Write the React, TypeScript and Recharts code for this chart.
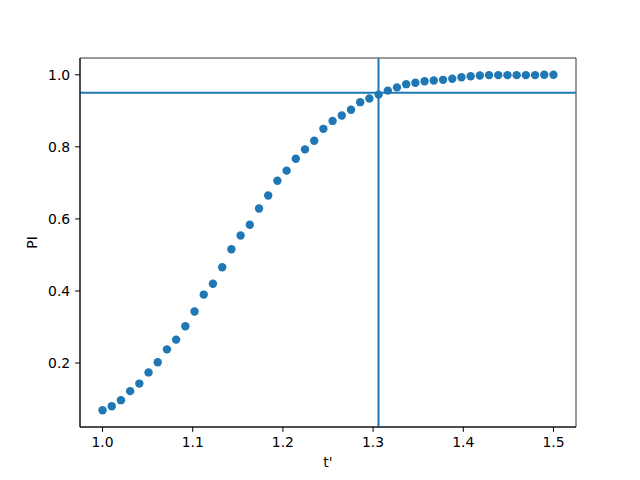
import React from 'react';
import { ScatterChart, Scatter, XAxis, YAxis, ReferenceLine, ReferenceArea } from 'recharts';

// t' samples (50 evenly spaced points between 1.0 and 1.5)
const tValues = [
  1.0, 1.0102, 1.0204, 1.0306, 1.0408, 1.051, 1.0612, 1.0714, 1.0816, 1.0918,
  1.102, 1.1122, 1.1224, 1.1327, 1.1429, 1.1531, 1.1633, 1.1735, 1.1837, 1.1939,
  1.2041, 1.2143, 1.2245, 1.2347, 1.2449, 1.2551, 1.2653, 1.2755, 1.2857, 1.2959,
  1.3061, 1.3163, 1.3265, 1.3367, 1.3469, 1.3571, 1.3673, 1.3776, 1.3878, 1.398,
  1.4082, 1.4184, 1.4286, 1.4388, 1.449, 1.4592, 1.4694, 1.4796, 1.4898, 1.5,
];

const piValues = [
  0.069, 0.08, 0.097, 0.122, 0.143, 0.174, 0.202, 0.238, 0.265, 0.302,
  0.343, 0.39, 0.42, 0.466, 0.516, 0.554, 0.584, 0.629, 0.665, 0.706,
  0.734, 0.767, 0.793, 0.817, 0.85, 0.872, 0.887, 0.903, 0.924, 0.934,
  0.945, 0.956, 0.965, 0.974, 0.978, 0.982, 0.984, 0.986, 0.989, 0.993,
  0.996, 0.998, 0.999, 0.999, 0.999, 0.999, 0.999, 0.999, 1.0, 1.0,
];

const xTicks = [1.0, 1.1, 1.2, 1.3, 1.4, 1.5];
const yTicks = [0.2, 0.4, 0.6, 0.8, 1.0];

const threshold = 0.95;
const tCross = 1.306;

const xDomain = [0.975, 1.525];
const yDomain = [0.0225, 1.0466];

const data = tValues.map((t, i) => ({ t, pi: piValues[i] }));

const blue = '#1f77b4';
const font = 'DejaVu Sans, sans-serif';
const tickStyle = { fontSize: 13.9, fill: '#000', fontFamily: font };

const Dot = (props: any) => <circle cx={props.cx} cy={props.cy} r={4.2} fill={blue} />;

const App = () => {
  return (
    <div style={{ position: 'absolute', left: 0, top: 0, width: 640, height: 480, background: '#fff' }}>
      <ScatterChart width={640} height={480} margin={{ top: 58, right: 64, bottom: 23, left: 20 }}>
        <XAxis
          type="number"
          dataKey="t"
          domain={xDomain}
          ticks={xTicks}
          allowDataOverflow
          tickFormatter={(v: number) => v.toFixed(1)}
          tick={tickStyle}
          tickSize={4.9}
          tickMargin={5.5}
          height={30}
          stroke="#000"
          label={{ value: "t'", position: 'bottom', offset: 0, style: tickStyle }}
        />
        <YAxis
          type="number"
          dataKey="pi"
          domain={yDomain}
          ticks={yTicks}
          allowDataOverflow
          tickFormatter={(v: number) => v.toFixed(1)}
          tick={tickStyle}
          tickSize={4.9}
          tickMargin={4.9}
          width={60}
          stroke="#000"
          label={{ value: 'PI', angle: -90, position: 'insideLeft', offset: 12, style: { ...tickStyle, textAnchor: 'middle' } }}
        />
        <ReferenceArea
          x1={xDomain[0]}
          x2={xDomain[1]}
          y1={yDomain[0]}
          y2={yDomain[1]}
          fill="none"
          fillOpacity={0}
          stroke="#000"
          strokeWidth={0.8}
          ifOverflow="visible"
        />
        <Scatter data={data} fill={blue} shape={Dot} isAnimationActive={false} />
        <ReferenceLine y={threshold} stroke={blue} strokeWidth={2} />
        <ReferenceLine x={tCross} stroke={blue} strokeWidth={2} />
      </ScatterChart>
    </div>
  );
};

export default App;
